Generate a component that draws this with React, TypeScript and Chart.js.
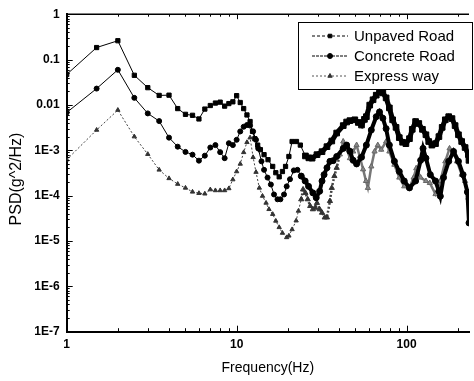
import React, { useEffect, useRef } from 'react';
import { Chart, registerables } from 'chart.js';
import { drawPoint } from 'chart.js/helpers';

Chart.register(...registerables);

const seriesNames = ['Unpaved Road', 'Concrete Road', 'Express way'];

const unpavedFreq = [1, 1.5, 2, 2.5, 3, 3.5, 4, 4.5, 5, 5.5, 6, 6.5, 7, 7.5, 8, 8.5, 9, 9.5, 10, 10.5, 11, 11.5, 12, 12.4, 12.8, 13.3, 13.8, 14.5, 15.3, 16.3, 17, 17.8, 18.6, 19.4, 20.3, 21.2, 22.5, 23.7, 25.4, 26.6, 27.8, 29.7, 31.8, 34, 36.3, 38.8, 42.4, 44.4, 46.4, 49.6, 52, 54.3, 56.5, 58, 60.7, 63.5, 66.3, 69.3, 72.5, 75.8, 79.2, 82.8, 86.7, 90.6, 94.8, 99.1, 104, 108, 113, 118, 124, 130, 135, 141, 148, 155, 162, 169, 177, 185, 193, 202, 211, 221, 231, 233];
const unpavedPsd = [0.047, 0.184, 0.26, 0.045, 0.024, 0.0162, 0.0164, 0.0083, 0.0062, 0.0059, 0.0049, 0.0081, 0.0097, 0.011, 0.0115, 0.0094, 0.0107, 0.0117, 0.016, 0.0113, 0.0083, 0.006, 0.0043, 0.0026, 0.0018, 0.0013, 0.00103, 0.0008, 0.00062, 0.00044, 0.00032, 0.00026, 0.00034, 0.00044, 0.00073, 0.00156, 0.00156, 0.0013, 0.00075, 0.00068, 0.00067, 0.0008, 0.00093, 0.0012, 0.0016, 0.0024, 0.0035, 0.0042, 0.0045, 0.0047, 0.0041, 0.0036, 0.0048, 0.0055, 0.0099, 0.013, 0.0164, 0.0195, 0.0184, 0.0143, 0.0086, 0.0047, 0.0032, 0.0019, 0.0015, 0.0014, 0.0018, 0.0029, 0.0043, 0.0039, 0.0029, 0.0022, 0.00156, 0.0013, 0.0014, 0.002, 0.0032, 0.0047, 0.0055, 0.005, 0.0035, 0.0022, 0.00156, 0.00115, 0.0008, 0.0006];

const concreteFreq = [1, 1.5, 2, 2.5, 3, 3.5, 4, 4.5, 5, 5.5, 6, 6.5, 7, 7.5, 8, 8.5, 9, 9.5, 10, 10.5, 11, 11.5, 12, 12.5, 13, 13.4, 14, 14.5, 15.2, 15.9, 16.6, 17.4, 18.1, 19, 19.7, 20.6, 21.7, 22.8, 24, 25.3, 26.5, 28.1, 29.4, 30.8, 31.8, 32.7, 34, 35.4, 37, 38.8, 42.4, 44.4, 46.4, 48.5, 50.8, 54.3, 58, 62, 66.3, 69.3, 72.5, 75.8, 79.2, 84.8, 90.6, 96.9, 104, 113, 121, 125, 130, 138, 148, 155, 158, 165, 177, 189, 202, 215, 228, 233];
const concretePsd = [0.0068, 0.0229, 0.0595, 0.0143, 0.0065, 0.0044, 0.0019, 0.0012, 0.00092, 0.0008, 0.00059, 0.00076, 0.00115, 0.0013, 0.00091, 0.00067, 0.00143, 0.0013, 0.0017, 0.0026, 0.0033, 0.0036, 0.0035, 0.0026, 0.0017, 0.0011, 0.00057, 0.00037, 0.00025, 0.000176, 0.000106, 0.000083, 0.000083, 0.000106, 0.00016, 0.00023, 0.00036, 0.00037, 0.00027, 0.00021, 0.00016, 0.000115, 0.00009, 0.000125, 0.00021, 0.00029, 0.00041, 0.00057, 0.00059, 0.00073, 0.0011, 0.0013, 0.00095, 0.0006, 0.0005, 0.0007, 0.0013, 0.0028, 0.0055, 0.007, 0.0051, 0.003, 0.0013, 0.00057, 0.00034, 0.00021, 0.000148, 0.00021, 0.0006, 0.0011, 0.00067, 0.00029, 0.00021, 0.000125, 0.000097, 0.00025, 0.00057, 0.00094, 0.00057, 0.00029, 0.00012, 0.000025];

const expressFreq = [1, 1.5, 2, 2.5, 3, 3.5, 4, 4.5, 5, 5.5, 6, 6.5, 7, 7.5, 8, 8.5, 9, 9.5, 10, 10.5, 11, 11.5, 12, 12.5, 13, 13.6, 14.2, 14.9, 15.5, 16.3, 17, 17.8, 18.6, 19.7, 20.3, 21.2, 22.4, 23.1, 24, 24.6, 25.4, 26.2, 27.1, 28.1, 29, 29.7, 30.8, 31.8, 33, 34, 35.4, 36.3, 37.6, 38.8, 40.5, 42.4, 44.4, 46.4, 48.5, 50.8, 53, 55.5, 57.7, 59.2, 62, 64.8, 67.7, 70.9, 75.8, 79.2, 84.8, 90.6, 96.9, 104, 110, 114, 121, 130, 137, 148, 158, 169, 179, 188, 198, 211, 221, 231];
const expressPsd = [0.00062, 0.0028, 0.0077, 0.002, 0.00082, 0.00037, 0.00024, 0.00018, 0.000148, 0.000121, 0.000113, 0.00011, 0.000136, 0.00013, 0.00013, 0.00013, 0.000144, 0.000226, 0.00034, 0.0005, 0.0009, 0.0015, 0.0019, 0.0007, 0.00033, 0.000148, 0.000098, 0.000069, 0.00005, 0.000039, 0.0000277, 0.00002, 0.000015, 0.000012, 0.000013, 0.000018, 0.000028, 0.000046, 0.000083, 0.000137, 0.000115, 0.000083, 0.000059, 0.00005, 0.000054, 0.000069, 0.00005, 0.000042, 0.000033, 0.000033, 0.000076, 0.000148, 0.00027, 0.00041, 0.00081, 0.00156, 0.0011, 0.00067, 0.00094, 0.0013, 0.00073, 0.00038, 0.00021, 0.000148, 0.00044, 0.00094, 0.0013, 0.00103, 0.00156, 0.00094, 0.00048, 0.00025, 0.00016, 0.000148, 0.00025, 0.0004, 0.00025, 0.00021, 0.00019, 0.000108, 0.00021, 0.00057, 0.0011, 0.0009, 0.00057, 0.00029, 0.00021, 0.00009];

const yTickValues = [1e-7, 1e-6, 1e-5, 1e-4, 1e-3, 0.01, 0.1, 1];
const yTickLabels = ['1E-7', '1E-6', '1E-5', '1E-4', '1E-3', '0.01', '0.1', '1'];
const xTickValues = [1, 10, 100];
const xTickLabels = ['1', '10', '100'];

const xTitle = 'Frequency(Hz)';
const yTitle = 'PSD(g^2/Hz)';

const FONT = '"Liberation Sans", Arial, Helvetica, sans-serif';
const DENSE_FROM = 24;

const toPoints = (f: number[], v: number[]) => f.map((x, i) => ({ x, y: v[i] }));

const axisDecor = {
  id: 'axisDecor',
  afterDraw(chart: any) {
    const { ctx, chartArea, scales } = chart;
    const { left, right, top, bottom } = chartArea;
    const x = scales.x;
    const y = scales.y;
    ctx.save();
    ctx.strokeStyle = '#000';
    ctx.lineWidth = 1.5;
    ctx.beginPath();
    ctx.moveTo(left, top);
    ctx.lineTo(right, top);
    ctx.stroke();
    ctx.lineWidth = 1;
    ctx.beginPath();
    for (let e = -7; e <= 0; e++) {
      for (let m = 1; m <= 9; m++) {
        const v = m * Math.pow(10, e);
        if (v > 1.0000001) break;
        const py = Math.round(y.getPixelForValue(v)) + 0.5;
        const len = m === 1 ? 6 : 3;
        ctx.moveTo(left, py);
        ctx.lineTo(left + len, py);
      }
    }
    for (let e = 0; e <= 2; e++) {
      for (let m = 1; m <= 9; m++) {
        const v = m * Math.pow(10, e);
        if (v > x.max) break;
        const px = Math.round(x.getPixelForValue(v)) + 0.5;
        const len = m === 1 ? 6 : 3.5;
        ctx.moveTo(px, bottom);
        ctx.lineTo(px, bottom - len);
        ctx.moveTo(px, top);
        ctx.lineTo(px, top + len - 1);
      }
    }
    ctx.stroke();

    ctx.fillStyle = '#000';
    ctx.font = `16px ${FONT}`;
    ctx.textAlign = 'center';
    ctx.textBaseline = 'middle';
    ctx.translate(17, 179);
    ctx.rotate(-Math.PI / 2);
    ctx.fillText(yTitle, 0, 0);
    ctx.restore();
  },
};

const boxLegend = {
  id: 'boxLegend',
  afterDraw(chart: any) {
    const { ctx } = chart;
    const l = 298.5, t = 22.5, r = 472.5, b = 89.5;
    ctx.save();
    ctx.fillStyle = '#fff';
    ctx.fillRect(l, t, r - l, b - t);
    ctx.strokeStyle = '#000';
    ctx.lineWidth = 1;
    ctx.strokeRect(l, t, r - l, b - t);
    chart.data.datasets.forEach((ds: any, i: number) => {
      const yy = 36 + 20 * i;
      ctx.strokeStyle = ds.borderColor;
      ctx.lineWidth = 1;
      ctx.setLineDash(ds.legendDash || []);
      ctx.beginPath();
      ctx.moveTo(312, yy);
      ctx.lineTo(348, yy);
      ctx.stroke();
      ctx.setLineDash([]);
      ctx.fillStyle = ds.legendColor;
      ctx.strokeStyle = ds.legendColor;
      drawPoint(ctx, { pointStyle: ds.pointStyle, radius: 2.5, rotation: 0, borderWidth: 1 }, 330, yy);
      ctx.fillStyle = '#000';
      ctx.font = `15px ${FONT}`;
      ctx.textAlign = 'left';
      ctx.textBaseline = 'middle';
      ctx.fillText(ds.label, 354, yy + 1);
    });
    ctx.restore();
  },
};

const whiteBg = {
  id: 'whiteBg',
  beforeDraw(chart: any) {
    const { ctx, width, height } = chart;
    ctx.save();
    ctx.fillStyle = '#fff';
    ctx.fillRect(0, 0, width, height);
    ctx.restore();
  },
};

const denseWidth = (low: number, high: number) => (c: any) =>
  c.p0 && c.p0.parsed && c.p0.parsed.x >= DENSE_FROM ? high : low;
const denseRadius = (low: number, high: number) => (c: any) =>
  c.parsed && c.parsed.x >= DENSE_FROM ? high : low;

export default function App() {
  const ref = useRef<HTMLCanvasElement>(null);
  useEffect(() => {
    if (!ref.current) return;
    const chart = new Chart(ref.current, {
      type: 'line',
      data: {
        datasets: [
          {
            label: seriesNames[0],
            data: toPoints(unpavedFreq, unpavedPsd),
            borderColor: '#000',
            borderWidth: 1,
            segment: { borderWidth: denseWidth(1, 5) },
            pointStyle: 'rect',
            pointRadius: denseRadius(3, 4),
            pointBackgroundColor: '#000',
            pointBorderColor: '#000',
            pointBorderWidth: 1,
            tension: 0,
            legendColor: '#000',
            legendDash: [3, 2],
          },
          {
            label: seriesNames[1],
            data: toPoints(concreteFreq, concretePsd),
            borderColor: '#000',
            borderWidth: 1,
            segment: { borderWidth: denseWidth(1, 4) },
            pointStyle: 'circle',
            pointRadius: denseRadius(2.5, 3),
            pointBackgroundColor: '#000',
            pointBorderColor: '#000',
            pointBorderWidth: 1,
            tension: 0,
            legendColor: '#000',
            legendDash: [3, 1],
          },
          {
            label: seriesNames[2],
            data: toPoints(expressFreq, expressPsd),
            borderColor: '#555',
            borderWidth: 1,
            borderDash: [2, 2],
            segment: {
              borderWidth: denseWidth(1, 2.5),
              borderColor: (c: any) => (c.p0.parsed.x >= 40 ? '#777' : '#444'),
              borderDash: (c: any) => (c.p0.parsed.x >= 40 ? [] : [2, 2]),
            },
            pointStyle: 'triangle',
            pointRadius: denseRadius(2.5, 3),
            pointBackgroundColor: (c: any) => (c.parsed && c.parsed.x >= 40 ? '#888' : '#333'),
            pointBorderColor: (c: any) => (c.parsed && c.parsed.x >= 40 ? '#666' : '#333'),
            pointBorderWidth: 1,
            tension: 0,
            legendColor: '#333',
            legendDash: [2, 2],
          },
        ],
      },
      options: {
        animation: false,
        responsive: false,
        devicePixelRatio: 1,
        layout: { padding: { top: 11.7, right: 0, left: 0, bottom: 0 } },
        plugins: { legend: { display: false }, tooltip: { enabled: false } },
        scales: {
          x: {
            type: 'logarithmic',
            min: 1,
            max: 233,
            afterBuildTicks: (s: any) => {
              s.ticks = xTickValues.map((v) => ({ value: v }));
            },
            afterFit: (s: any) => {
              s.height = 49.3;
            },
            grid: { display: false, drawTicks: false },
            border: { display: true, color: '#000', width: 2 },
            ticks: {
              padding: 6,
              color: '#000',
              autoSkip: false,
              maxRotation: 0,
              font: { family: FONT, size: 12, weight: 'bold' },
              callback: (v: any) => {
                const i = xTickValues.indexOf(Number(v));
                return i >= 0 ? xTickLabels[i] : '';
              },
            },
            title: {
              display: true,
              text: xTitle,
              color: '#000',
              font: { family: FONT, size: 14 },
              padding: { top: 0, bottom: 4.5 },
            },
          },
          y: {
            type: 'logarithmic',
            min: 1e-7,
            max: 1,
            afterBuildTicks: (s: any) => {
              s.ticks = yTickValues.map((v) => ({ value: v }));
            },
            afterFit: (s: any) => {
              s.width = 66.7;
            },
            grid: { display: false, drawTicks: false },
            border: { display: true, color: '#000', width: 2 },
            ticks: {
              padding: 7,
              color: '#000',
              autoSkip: false,
              font: { family: FONT, size: 12, weight: 'bold' },
              callback: (v: any) => {
                const n = Number(v);
                const i = yTickValues.findIndex((t) => Math.abs(t - n) / t < 1e-6);
                return i >= 0 ? yTickLabels[i] : '';
              },
            },
          },
        },
      } as any,
      plugins: [whiteBg, axisDecor, boxLegend],
    });
    return () => chart.destroy();
  }, []);

  return (
    <div style={{ position: 'fixed', left: 0, top: 0, width: 474, height: 381, background: '#fff' }}>
      <canvas ref={ref} width={474} height={381} style={{ display: 'block' }} />
    </div>
  );
}
